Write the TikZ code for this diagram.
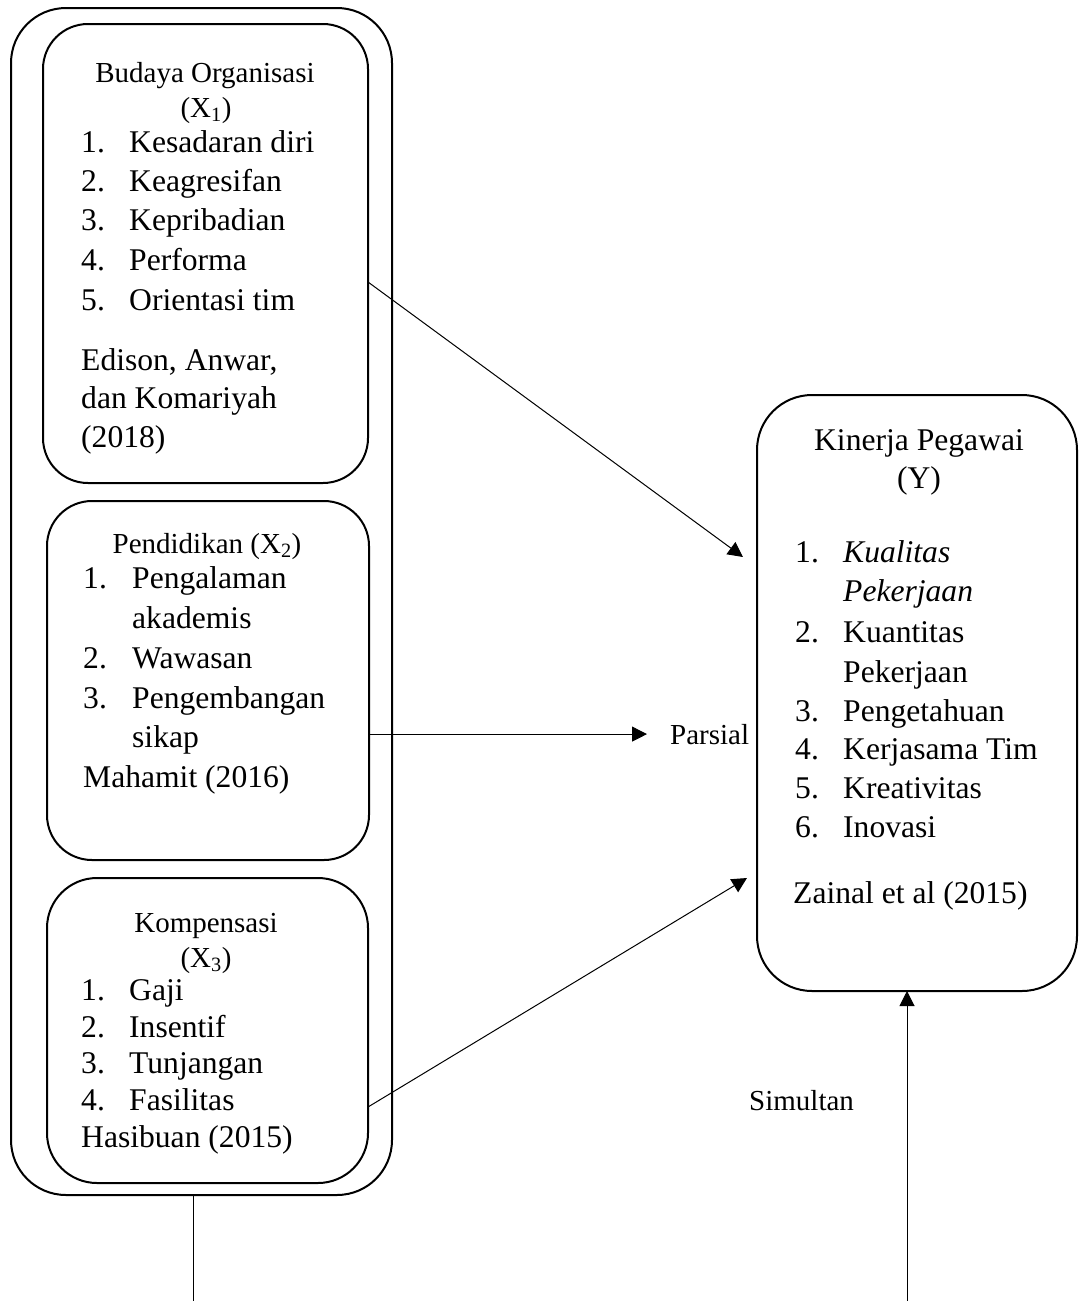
\documentclass[tikz,border=0pt]{standalone}
\usepackage{fontspec}
\setmainfont{Liberation Serif}
\usetikzlibrary{arrows.meta, positioning}
\newcommand{\listfont}{\fontsize{31.6}{38}\selectfont}
\newcommand{\headfont}{\fontsize{29}{35}\selectfont}

\begin{document}
\begin{tikzpicture}[x=1pt, y=-1pt,
    box/.style={draw, line width=2pt, rounded corners=45pt, inner sep=0pt, outer sep=0pt},
    arr/.style={-{Triangle[length=15pt, width=15pt]}, line width=1pt},
    head/.style={font=\headfont, inner sep=0pt, anchor=base},
    txt/.style={font=\listfont, inner sep=0pt, anchor=base west}]
    \useasboundingbox (0,0) rectangle (1079,1301);

    % Boxes
    \node[box, rounded corners=55pt, minimum width=381pt, minimum height=1187pt] (grp) at (201.5,601.5) {};
    \node[box, minimum width=325pt, minimum height=459pt] (x1box) at (205.5,253.5) {};
    \node[box, minimum width=322pt, minimum height=359pt] (x2box) at (208,680.5) {};
    \node[box, rounded corners=50pt, minimum width=321pt, minimum height=305pt] (x3box) at (207.5,1030.5) {};
    \node[box, rounded corners=55pt, minimum width=320pt, minimum height=596pt] (ybox) at (917,693) {};

    % Budaya Organisasi
    \node[head] (x1h) at (205,82) {Budaya Organisasi};
    \node[head] (x1s) at (206,117) {(X\textsubscript{1})};
    \foreach \y/\n in {152/1., 191/2., 230/3., 270/4., 310/5.} {
        \node[txt] (x1n\y) at (81,\y) {\n};
    }
    \foreach \y/\t in {152/Kesadaran diri, 191/Keagresifan, 230/Kepribadian, 270/Performa, 310/Orientasi tim} {
        \node[txt] (x1t\y) at (129,\y) {\t};
    }
    \node[txt] (x1r1) at (81,370) {Edison, Anwar,};
    \node[txt] (x1r2) at (81,408) {dan Komariyah};
    \node[txt] (x1r3) at (81,447) {(2018)};

    % Pendidikan
    \node[head] (x2h) at (207,553) {Pendidikan (X\textsubscript{2})};
    \foreach \y/\n in {588/1., 668/2., 708/3.} {
        \node[txt] (x2n\y) at (83,\y) {\n};
    }
    \foreach \y/\t in {588/Pengalaman, 628/akademis, 668/Wawasan, 708/Pengembangan, 747/sikap} {
        \node[txt] (x2t\y) at (132,\y) {\t};
    }
    \node[txt] (x2r) at (83,787) {Mahamit (2016)};

    % Kompensasi
    \node[head] (x3h) at (206,932) {Kompensasi};
    \node[head] (x3s) at (206,967) {(X\textsubscript{3})};
    \foreach \y/\n in {1000/1., 1037/2., 1073/3., 1110/4.} {
        \node[txt] (x3n\y) at (81,\y) {\n};
    }
    \foreach \y/\t in {1000/Gaji, 1037/Insentif, 1073/Tunjangan, 1110/Fasilitas} {
        \node[txt] (x3t\y) at (129,\y) {\t};
    }
    \node[txt] (x3r) at (81,1147) {Hasibuan (2015)};

    % Kinerja Pegawai
    \node[head, font=\listfont] (yh) at (919,450) {Kinerja Pegawai};
    \node[head, font=\listfont] (ys) at (919,488) {(Y)};
    \foreach \y/\n in {562/1., 642/2., 721/3., 759/4., 798/5., 837/6.} {
        \node[txt] (yn\y) at (795,\y) {\n};
    }
    \foreach \y/\t in {562/\textit{Kualitas}, 601/\textit{Pekerjaan}, 642/Kuantitas, 682/Pekerjaan, 721/Pengetahuan, 759/Kerjasama Tim, 798/Kreativitas, 837/Inovasi} {
        \node[txt] (yt\y) at (843,\y) {\t};
    }
    \node[txt] (yr) at (793,903) {Zainal et al (2015)};

    % Labels
    \node[txt, font=\headfont] (parsial) at (670,744) {Parsial};
    \node[txt, font=\headfont] (simultan) at (749,1110) {Simultan};

    % Arrows
    \coordinate (tip1) at (743,557);
    \coordinate (tip3) at (747,878);
    \coordinate (lbot) at (193,1301);
    \coordinate (rbot) at (907,1301);
    \draw[arr] (x1box.east |- 0,282) -- (tip1);
    \draw[arr, shorten >=23pt] (x2box.east |- parsial.west) -- (parsial.west);
    \draw[arr] (x3box.east |- 0,1107) -- (tip3);
    \draw[line width=1pt] (grp.south -| lbot) -- (lbot);
    \draw[arr] (rbot) -- (rbot |- ybox.south);
\end{tikzpicture}
\end{document}
